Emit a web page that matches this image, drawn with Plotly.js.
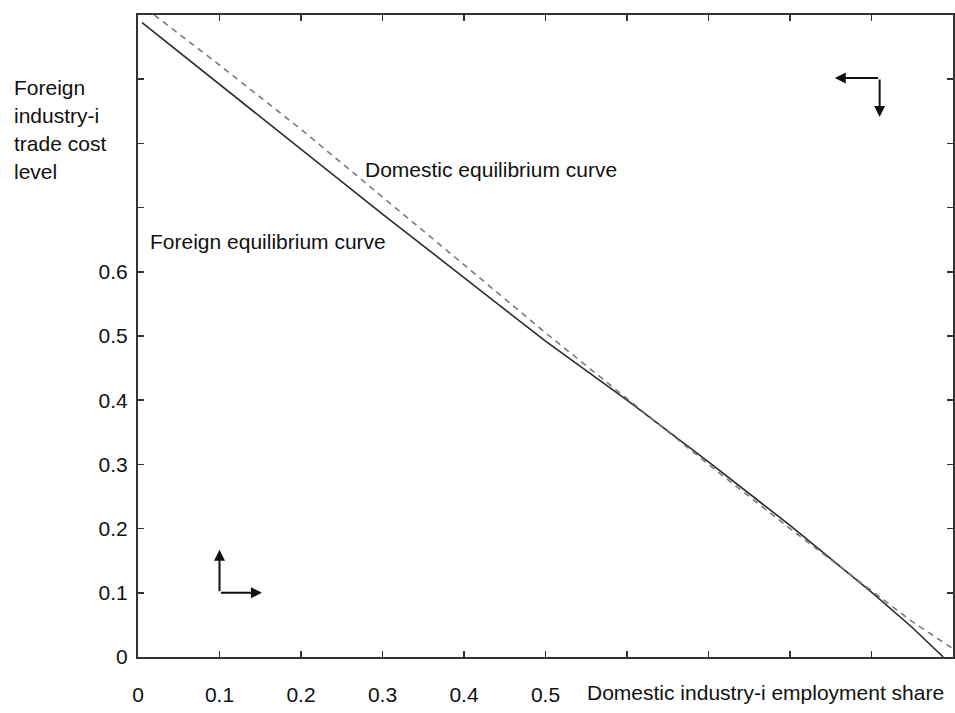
<!DOCTYPE html>
<html>
<head>
<meta charset="utf-8">
<script src="https://cdn.plot.ly/plotly-3.0.1.min.js"></script>
<style>html,body{margin:0;padding:0;background:#fff;}#chart{width:955px;height:713px;}</style>
</head>
<body>
<div id="chart"></div>
<script>
// Foreign equilibrium curve (solid)
const foreignX = [0.005, 0.1, 0.2, 0.3, 0.4, 0.5, 0.6, 0.7, 0.8, 0.9, 0.95, 0.988];
const foreignY = [0.988, 0.892, 0.791, 0.690, 0.591, 0.492, 0.400, 0.304, 0.205, 0.101, 0.046, 0.0];
// Domestic equilibrium curve (dashed)
const domesticX = [0.02, 0.1, 0.2, 0.3, 0.4, 0.5, 0.6, 0.7, 0.8, 0.9, 0.95, 1.0];
const domesticY = [1.0, 0.922, 0.822, 0.717, 0.611, 0.505, 0.402, 0.300, 0.200, 0.103, 0.055, 0.013];

const tickVals = [0, 0.1, 0.2, 0.3, 0.4, 0.5, 0.6, 0.7, 0.8, 0.9, 1.0];
const xTickText = ["0", "0.1", "0.2", "0.3", "0.4", "0.5", "", "", "", "", ""];
const yTickText = ["0", "0.1", "0.2", "0.3", "0.4", "0.5", "0.6", "", "", "", ""];

// Direction arrows: [startX, startY, endX, endY]
const arrowLowerUp = [0.1, 0.1, 0.1, 0.167];
const arrowLowerRight = [0.1, 0.1, 0.152, 0.1];
const arrowUpperLeft = [0.910, 0.902, 0.855, 0.902];
const arrowUpperDown = [0.910, 0.902, 0.910, 0.841];

const yTitleLines = ["Foreign", "industry-i", "trade cost", "level"];

const FONT = "Arial, 'Liberation Sans', sans-serif";
const FS = 21;
const W = 955, H = 713;
const M = {l: 138, r: 2, t: 15, b: 56};
const PW = W - M.l - M.r, PH = H - M.t - M.b;
function px(x) { return (x - M.l) / PW; }
function py(y) { return (H - M.b - y) / PH; }

function arrowAnn(a) {
  return {
    x: a[2], y: a[3], xref: 'x', yref: 'y',
    ax: a[0], ay: a[1], axref: 'x', ayref: 'y',
    showarrow: true, arrowhead: 2, arrowsize: 1.1, arrowwidth: 2,
    arrowcolor: '#111', text: ''
  };
}

const annotations = [
  arrowAnn(arrowLowerUp), arrowAnn(arrowLowerRight),
  arrowAnn(arrowUpperLeft), arrowAnn(arrowUpperDown),
  {xref: 'paper', yref: 'paper', x: px(363), y: py(169), xanchor: 'left', yanchor: 'middle',
   text: 'Domestic equilibrium curve', showarrow: false, font: {family: FONT, size: FS, color: '#111'}},
  {xref: 'paper', yref: 'paper', x: px(148), y: py(241), xanchor: 'left', yanchor: 'middle',
   text: 'Foreign equilibrium curve', showarrow: false, font: {family: FONT, size: FS, color: '#111'}},
  {xref: 'paper', yref: 'paper', x: px(585), y: py(692), xanchor: 'left', yanchor: 'middle',
   text: 'Domestic industry-i employment share', showarrow: false, font: {family: FONT, size: FS, color: '#111'}}
];
const lineYs = [87, 115, 143, 172];
yTitleLines.forEach((t, i) => {
  annotations.push({xref: 'paper', yref: 'paper', x: px(12), y: py(lineYs[i]), xanchor: 'left', yanchor: 'middle',
    text: t, showarrow: false, font: {family: FONT, size: FS, color: '#111'}});
});

const traces = [
  {x: foreignX, y: foreignY, mode: 'lines', type: 'scatter', name: 'Foreign equilibrium curve',
   line: {color: '#2b2b2b', width: 1.6}},
  {x: domesticX, y: domesticY, mode: 'lines', type: 'scatter', name: 'Domestic equilibrium curve',
   line: {color: '#7a7a7a', width: 1.6, dash: '6px,5px'}}
];

const axisCommon = {
  range: [0, 1], tickmode: 'array', tickvals: tickVals,
  ticks: 'inside', ticklen: 6, tickwidth: 1.5, tickcolor: '#333',
  showline: true, linecolor: '#333', linewidth: 2, mirror: 'ticks',
  showgrid: false, zeroline: false,
  tickfont: {family: FONT, size: FS, color: '#111'}
};

const layout = {
  width: W, height: H,
  margin: M,
  paper_bgcolor: '#fff', plot_bgcolor: '#fff',
  showlegend: false,
  xaxis: Object.assign({}, axisCommon, {ticktext: xTickText, ticklabelstandoff: 18}),
  yaxis: Object.assign({}, axisCommon, {ticktext: yTickText, ticklabelstandoff: 4}),
  annotations: annotations
};

Plotly.newPlot('chart', traces, layout, {displayModeBar: false, staticPlot: true});
</script>
</body>
</html>
